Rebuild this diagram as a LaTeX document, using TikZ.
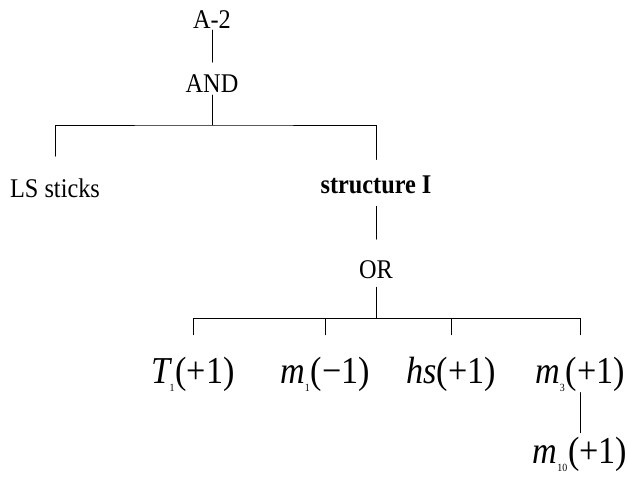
\documentclass[tikz,border=0pt]{standalone}
\usepackage{fontspec}
\setmainfont{Liberation Serif}
\newcommand{\evSub}[1]{\raisebox{-8.5pt}{\fontsize{11}{11}\selectfont #1}}
\newcommand{\narrowTxt}[1]{\scalebox{0.9}[1]{#1}}
\begin{document}
\begin{tikzpicture}
% Fault tree A-2, drawn on a pixel grid (y runs down)
\def\unitsz{1pt}
\providecommand{\treeLineColor}{black}
\providecommand{\treeLineWidth}{0.9pt}
\begin{scope}[x=\unitsz, y=-\unitsz, line cap=round, line join=miter]
  \useasboundingbox (0,0) rectangle (628,479);
  \tikzset{
    gatelabel/.style={inner sep=0pt, outer sep=0pt, anchor=base, font=\fontsize{27}{30}\selectfont},
    eventlabel/.style={inner sep=0pt, outer sep=0pt, anchor=base, font=\fontsize{38}{42}\selectfont},
    branch/.style={draw=\treeLineColor, line width=\treeLineWidth}
  }
  % Top event and AND gate
  \node[gatelabel] (a2) at (212,28) {\narrowTxt{A-2}};
  \node[gatelabel] (and) at (212,92) {\narrowTxt{AND}};
  \coordinate (andbar) at (212,125);
  % Inputs of the AND gate
  \node[gatelabel] (ls) at (55,197) {\narrowTxt{LS sticks}};
  \node[gatelabel, font=\fontsize{27}{30}\selectfont\bfseries] (st) at (376,193) {\narrowTxt{structure I}};
  % OR gate
  \node[gatelabel] (or) at (376,278) {\narrowTxt{OR}};
  \coordinate (orbar) at (376,318);
  % Basic events
  \node[eventlabel] (t1) at (193,383) {\narrowTxt{\textit{T}\kern-3pt\evSub{1}\kern1pt(+1)}};
  \node[eventlabel] (m1) at (325,383) {\narrowTxt{\textit{m}\evSub{1}\kern1pt(−1)}};
  \node[eventlabel] (hs) at (451,383) {\narrowTxt{\textit{hs}(+1)}};
  \node[eventlabel] (m3) at (580,383) {\narrowTxt{\textit{m}\evSub{3}\kern1pt(+1)}};
  \node[eventlabel] (m10) at (580,463) {\narrowTxt{\textit{m}\evSub{10}\kern1pt(+1)}};
  % Branches
  \draw[branch, shorten <=2pt, shorten >=12pt] (a2.south) -- (and.north);
  \draw[branch, shorten <=3pt] (and.south) -- (andbar);
  \draw[branch, shorten <=22pt, shorten >=16pt] (ls.north) |- (andbar) -| (st.north);
  \draw[branch, shorten <=13pt, shorten >=21pt] (st.south) -- (or.north);
  \draw[branch, shorten <=9pt] (or.south) -- (orbar);
  \foreach \ev in {t1,m1,hs,m3}
    \draw[branch, shorten >=22pt] (orbar) -| (\ev.north);
  \draw[branch, shorten <=1pt, shorten >=4pt] (m3.south) -- (m10.north);
\end{scope}
\end{tikzpicture}
\end{document}
